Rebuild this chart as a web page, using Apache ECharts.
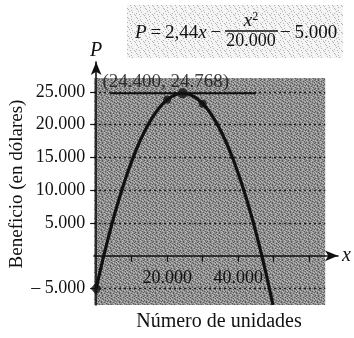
<!DOCTYPE html>
<html><head><meta charset="utf-8">
<script src="https://cdn.jsdelivr.net/npm/echarts@6/dist/echarts.min.js"></script>
<style>html,body{margin:0;padding:0;background:#fff}#c{width:354px;height:338px}</style>
</head><body><div id="c"></div>
<script>
// ---- data ----
const curveX = [0, 2500, 5000, 7500, 10000, 12500, 15000, 17500, 20000, 22500, 24400, 25000, 27500, 30000, 32500, 35000, 37500, 40000, 42500, 45000, 47500, 49800];
const curveP = [-5000, 790, 5950, 10490, 14400, 17690, 20350, 22390, 23800, 24590, 24768, 24750, 24290, 23200, 21490, 19150, 16190, 12600, 8390, 3550, -1910, -7490];
const yTickValues = [-5000, 5000, 10000, 15000, 20000, 25000];
const yGridValues = [-5000, 5000, 10000, 15000, 20000, 25000];
const xTickValues = [10000, 20000, 30000, 40000, 50000, 60000];
const xLabelValues = [20000, 40000];
const vertexPoint = [24400, 24768];
const vertexLabel = '(24.400, 24.768)';
const markedPoints = [[20000, 23800], [30000, 23200]];
const startPoint = [0, -5000];
const maxLineX = [4000, 45000];
const shadedX = [-600, 64500];
const shadedY = [-7500, 27100];
const xAxisRange = [-600, 68100];
const yAxisRange = [-7500, 29550];
const yAxisTitle = 'Beneficio (en dólares)';
const xAxisTitle = 'Número de unidades';

const SERIF = '"Liberation Serif","DejaVu Serif",serif';
const GRID = { left: 94, right: 16, top: 62, bottom: 33 };
const W = 354, H = 338;

function fmt(v) {
  const s = Math.abs(v).toString().replace(/\B(?=(\d{3})+(?!\d))/g, '.');
  return v < 0 ? '\u2013 ' + s : s;
}

function makePattern(base, dark, light, rows) {
  const c = document.createElement('canvas');
  c.width = rows[0].length; c.height = rows.length;
  const ctx = c.getContext('2d');
  ctx.fillStyle = base; ctx.fillRect(0, 0, c.width, c.height);
  rows.forEach((r, y) => {
    for (let x = 0; x < r.length; x++) {
      if (r[x] === 'd') { ctx.fillStyle = dark; ctx.fillRect(x, y, 1, 1); }
      if (r[x] === 'l') { ctx.fillStyle = light; ctx.fillRect(x, y, 1, 1); }
    }
  });
  return { image: c, repeat: 'repeat' };
}

const plotPattern = makePattern('#8f8f8f', '#5a5a5a', '#bcbcbc', [
  '.d.l..d.l',
  'l..d.l..d',
  '.l..d..l.',
  'd..l..d.l',
  '..d.l...d',
  'l.d..d.l.',
  '.l...l.d.',
  'd..d..l..',
  '.l.d.l..d'
]);
const eqPattern = makePattern('#f3f3f3', '#b4b4b4', '#ffffff', [
  '..d....l.',
  '.....d...',
  'l..d.....',
  '......d..',
  '.d...l...',
  '....d...d',
  'd......l.',
  '...l.d...',
  '.d.......'
]);

// axes placed through the zero of the other axis (pixel offset derived from the scales)
const gridW = W - GRID.left - GRID.right;
const gridH = H - GRID.top - GRID.bottom;
const xAxisOffset = -((0 - yAxisRange[0]) / (yAxisRange[1] - yAxisRange[0])) * gridH;
const yAxisOffset = -((0 - xAxisRange[0]) / (xAxisRange[1] - xAxisRange[0])) * gridW;

const chart = echarts.init(document.getElementById('c'), null, { renderer: 'canvas' });

const option = {
  animation: false,
  backgroundColor: '#ffffff',
  grid: GRID,
  xAxis: {
    type: 'value', min: xAxisRange[0], max: xAxisRange[1], z: 5, offset: xAxisOffset,
    name: 'x', nameLocation: 'end', nameGap: 4,
    nameTextStyle: { fontFamily: SERIF, fontStyle: 'italic', fontSize: 20, color: '#111', verticalAlign: 'middle' },
    axisLine: { show: true, onZero: false, symbol: ['none', 'arrow'], symbolSize: [8, 13], lineStyle: { color: '#111', width: 1.6 } },
    axisTick: { show: true, customValues: xTickValues, length: 6, lineStyle: { color: '#111', width: 1.2 } },
    axisLabel: { show: true, customValues: xLabelValues, formatter: fmt, margin: 13, fontFamily: SERIF, fontSize: 18, color: '#111' },
    splitLine: { show: false }
  },
  yAxis: {
    type: 'value', min: yAxisRange[0], max: yAxisRange[1], z: 5, offset: yAxisOffset,
    name: 'P', nameLocation: 'end', nameGap: 1,
    nameTextStyle: { fontFamily: SERIF, fontStyle: 'italic', fontSize: 20, color: '#111', align: 'center' },
    axisLine: { show: true, onZero: false, symbol: ['none', 'arrow'], symbolSize: [8, 13], lineStyle: { color: '#111', width: 1.6 } },
    axisTick: { show: true, customValues: yTickValues, length: 6, lineStyle: { color: '#111', width: 1.2 } },
    axisLabel: { show: true, customValues: yTickValues, formatter: fmt, margin: 11, fontFamily: SERIF, fontSize: 18, color: '#111' },
    splitLine: { show: false }
  },
  series: [
    {
      type: 'line', z: 1, data: [], silent: true,
      markArea: {
        silent: true,
        itemStyle: { color: plotPattern },
        data: [[{ coord: [shadedX[0], shadedY[0]] }, { coord: [shadedX[1], shadedY[1]] }]]
      },
      markLine: {
        silent: true, symbol: ['none', 'none'],
        label: { show: false },
        lineStyle: { color: '#1a1a1a', width: 1.4, type: [2, 3] },
        data: yGridValues.map(v => [{ coord: [shadedX[0], v] }, { coord: [shadedX[1], v] }])
      }
    },
    {
      type: 'line', z: 6, silent: true, symbol: 'none',
      lineStyle: { color: '#111', width: 2 },
      data: maxLineX.map(x => [x, vertexPoint[1]])
    },
    {
      type: 'line', z: 7, silent: true, symbol: 'none', smooth: 0.35,
      lineStyle: { color: '#111', width: 3.2 },
      data: curveX.map((x, i) => [x, curveP[i]])
    },
    {
      type: 'scatter', z: 8, silent: true,
      itemStyle: { color: '#111' },
      data: [
        { value: startPoint, symbol: 'diamond', symbolSize: [11, 13] },
        { value: markedPoints[0], symbol: 'circle', symbolSize: 8 },
        { value: markedPoints[1], symbol: 'circle', symbolSize: 8 },
        {
          value: vertexPoint, symbol: 'circle', symbolSize: 10,
          label: {
            show: true, formatter: vertexLabel, position: 'top', distance: 0, offset: [-17, 3],
            fontFamily: SERIF, fontSize: 19, color: '#111'
          }
        }
      ]
    }
  ],
  graphic: [
    { type: 'text', silent: true, x: 17, y: 184, rotation: Math.PI / 2,
      style: { text: yAxisTitle, align: 'center', verticalAlign: 'middle', fontFamily: SERIF, fontSize: 19, fill: '#111' } },
    { type: 'rect', z: -1, silent: true, shape: { x: 127, y: 5, width: 216, height: 53 }, style: { fill: eqPattern } },
    { type: 'text', silent: true, x: 135, y: 33,
      style: { text: '{i|P}\u2009=\u20092,44{i|x}\u2009\u2212', verticalAlign: 'middle', align: 'left', fontFamily: SERIF, fontSize: 19, fill: '#111',
        rich: { i: { fontFamily: SERIF, fontStyle: 'italic', fontSize: 19, fill: '#111' } } } },
    { type: 'text', silent: true, x: 251, y: 21,
      style: { text: '{i|x}{s|2}', align: 'center', verticalAlign: 'middle', fontFamily: SERIF, fontSize: 19, fill: '#111',
        rich: { i: { fontFamily: SERIF, fontStyle: 'italic', fontSize: 19, fill: '#111' }, s: { fontFamily: SERIF, fontSize: 12, fill: '#111', verticalAlign: 'top', padding: [0, 0, 8, 0] } } } },
    { type: 'line', silent: true, shape: { x1: 225, y1: 31, x2: 278, y2: 31 }, style: { stroke: '#111', lineWidth: 1.3 } },
    { type: 'text', silent: true, x: 251, y: 41,
      style: { text: '20.000', align: 'center', verticalAlign: 'middle', fontFamily: SERIF, fontSize: 18, fill: '#111' } },
    { type: 'text', silent: true, x: 280, y: 33,
      style: { text: '\u2212\u20095.000', align: 'left', verticalAlign: 'middle', fontFamily: SERIF, fontSize: 19, fill: '#111' } },
    { type: 'text', silent: true, x: 219, y: 322,
      style: { text: xAxisTitle, align: 'center', verticalAlign: 'middle', fontFamily: SERIF, fontSize: 20, fill: '#111' } }
  ]
};
chart.setOption(option);
</script>
</body></html>
